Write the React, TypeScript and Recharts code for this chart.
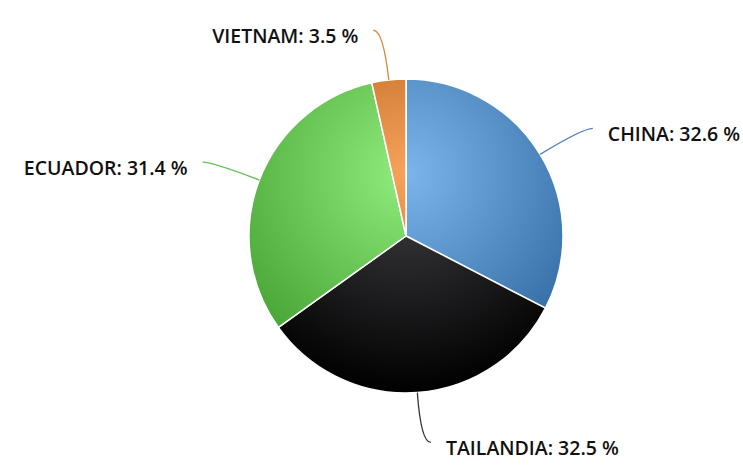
import React from 'react';
import { PieChart, Pie, Cell } from 'recharts';

// share of imports by origin (%)
const countries = ['CHINA', 'TAILANDIA', 'ECUADOR', 'VIETNAM'];
const shares = [32.6, 32.5, 31.4, 3.5];

const baseColors = ['#7cb5ec', '#434348', '#90ed7d', '#f7a35c'];
const edgeColors = ['#2f689f', '#000000', '#43a030', '#aa560f'];
const lineColors = ['#4f82bd', '#333338', '#63c052', '#d9883e'];

const W = 743;
const H = 474;
const CX = 406;
const CY = 236;
const R = 157;
const RAD = Math.PI / 180;

const data = countries.map((name, i) => ({ name, value: shares[i] }));

const renderLabel = (p: any) => {
  const { cx, cy, midAngle, outerRadius, index, name, value } = p;
  const cos = Math.cos(-midAngle * RAD);
  const sin = Math.sin(-midAngle * RAD);
  const x0 = cx + outerRadius * cos;
  const y0 = cy + outerRadius * sin;
  const x1 = cx + (outerRadius + 50) * cos;
  const y1 = cy + (outerRadius + 50) * sin;
  const dir = cos >= 0 ? 1 : -1;
  const x2 = x1 + dir * 10;
  return (
    <g key={`lbl-${index}`}>
      <path
        d={`M${x0},${y0} Q${x1},${y1} ${x2},${y1}`}
        stroke={lineColors[index]}
        strokeWidth={1.3}
        fill="none"
      />
      <text
        x={x2 + dir * 15}
        y={y1 + 5}
        textAnchor={dir > 0 ? 'start' : 'end'}
        dominantBaseline="central"
        fill="#111"
        fontFamily="'Open Sans', sans-serif"
        fontWeight={600}
        fontSize={19.5}
      >
        {`${name}: ${value} %`}
      </text>
    </g>
  );
};

export default function App() {
  return (
    <div style={{ position: 'fixed', left: 0, top: 0, width: W, height: H, background: '#fff' }}>
      <PieChart width={W} height={H} margin={{ top: 0, right: 0, bottom: 0, left: 0 }}>
        <defs>
          {baseColors.map((c, i) => (
            <radialGradient
              key={i}
              id={`grad-${i}`}
              gradientUnits="userSpaceOnUse"
              cx={CX}
              cy={CY - R + 0.6 * R}
              r={1.4 * R}
            >
              <stop offset="0%" stopColor={c} />
              <stop offset="100%" stopColor={edgeColors[i]} />
            </radialGradient>
          ))}
        </defs>
        <Pie
          data={data}
          dataKey="value"
          nameKey="name"
          cx={CX}
          cy={CY}
          outerRadius={R}
          startAngle={90}
          endAngle={-270}
          stroke="#fff"
          strokeWidth={1.5}
          label={renderLabel}
          labelLine={false}
          isAnimationActive={false}
        >
          {data.map((_, i) => (
            <Cell key={`cell-${i}`} fill={`url(#grad-${i})`} />
          ))}
        </Pie>
      </PieChart>
    </div>
  );
}
